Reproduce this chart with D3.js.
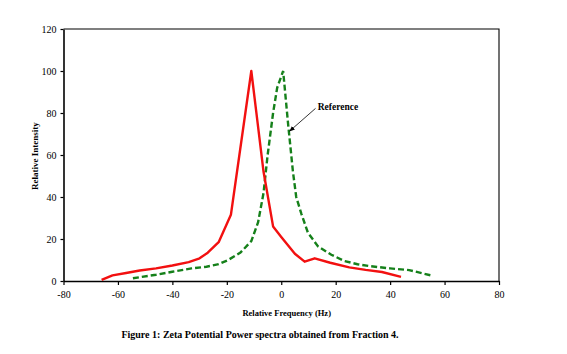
<!DOCTYPE html>
<html>
<head>
<meta charset="utf-8">
<script src="https://cdn.jsdelivr.net/npm/d3@7"></script>
<style>
  body { margin: 0; background: #fff; }
  svg text { font-family: "Liberation Serif", "Times New Roman", serif; fill: #000; }
</style>
</head>
<body>
<svg id="chart" width="567" height="354"></svg>
<script>
// Sample curve (red, solid): [frequency Hz, intensity]
const sampleSeries = [
    [-66, 0.5], [-62, 2.7], [-57, 3.8], [-52, 5], [-46, 6], [-40, 7.4], [-34, 9],
    [-30, 10.8], [-27, 13.5], [-23, 18.5], [-18.5, 31.5], [-11, 100], [-6.5, 52],
    [-3, 26], [0, 21], [5, 13], [8.6, 9.2], [12.3, 10.8], [18, 8.7], [25, 6.5],
    [31, 5.3], [37, 4.3], [44, 2]
];

// Reference curve (green, dashed)
const referenceSeries = [
    [-54.5, 1.3], [-46, 3], [-40, 4.4], [-33, 6], [-27.5, 6.8], [-23, 8], [-19.5, 10],
    [-15, 13.5], [-11, 19], [-8.5, 28], [-6.5, 42], [-5, 60], [-3, 80], [-1.5, 92],
    [0.7, 100], [2.5, 75], [4.3, 52], [5.5, 40], [7.4, 32], [9.8, 23], [13.5, 16.5],
    [18.4, 12.5], [23.3, 9.5], [28, 8], [33, 7], [40, 6], [47, 5.2], [55.5, 2.5]
];

const xTicks = [-80, -60, -40, -20, 0, 20, 40, 60, 80];
const yTicks = [0, 20, 40, 60, 80, 100, 120];

const annotation = { label: "Reference", text: [13.4, 81.4], from: [12.6, 82.2], to: [3.1, 71.4] };

const W = 567, H = 354;
const margin = { top: 29, right: 68, bottom: 73, left: 63.5 };
const iw = W - margin.left - margin.right;
const ih = H - margin.top - margin.bottom;

const svg = d3.select("#chart");
const g = svg.append("g").attr("transform", `translate(${margin.left},${margin.top})`);

const x = d3.scaleLinear().domain([-80, 80]).range([0, iw]);
const y = d3.scaleLinear().domain([0, 120]).range([ih, 0]);

// frame top + right
g.append("path")
    .attr("d", `M0,0H${iw}V${ih}`)
    .attr("fill", "none").attr("stroke", "#000").attr("stroke-width", 1.1);

// plain hyphen for negatives, like the original
const fmt = v => String(v);

const xAxis = g.append("g").attr("transform", `translate(0,${ih})`)
    .call(d3.axisBottom(x).tickValues(xTicks).tickFormat(fmt).tickSize(4).tickSizeOuter(0).tickPadding(6));
const yAxis = g.append("g")
    .call(d3.axisLeft(y).tickValues(yTicks).tickFormat(fmt).tickSize(3).tickSizeOuter(0).tickPadding(4));

[xAxis, yAxis].forEach(a => {
    a.select(".domain").attr("stroke", "#000").attr("stroke-width", 1.6);
    a.selectAll(".tick line").attr("stroke", "#000").attr("stroke-width", 1.2);
    a.selectAll("text").attr("font-size", "10px")
        .attr("font-family", "'Liberation Serif', serif");
});

const line = d3.line().x(d => x(d[0])).y(d => y(d[1]));

g.append("path").datum(referenceSeries)
    .attr("d", line)
    .attr("fill", "none").attr("stroke", "#15801a").attr("stroke-width", 2.4)
    .attr("stroke-dasharray", "6,3");

g.append("path").datum(sampleSeries)
    .attr("d", line)
    .attr("fill", "none").attr("stroke", "#f21010").attr("stroke-width", 2.4)
    .attr("stroke-linejoin", "round");

// annotation arrow
svg.append("defs").append("marker")
    .attr("id", "arrow").attr("viewBox", "0 0 10 10")
    .attr("refX", 9).attr("refY", 5)
    .attr("markerWidth", 7).attr("markerHeight", 7)
    .attr("orient", "auto")
    .append("path").attr("d", "M0,1L10,5L0,9z").attr("fill", "#000");

g.append("line")
    .attr("x1", x(annotation.from[0])).attr("y1", y(annotation.from[1]))
    .attr("x2", x(annotation.to[0])).attr("y2", y(annotation.to[1]))
    .attr("stroke", "#000").attr("stroke-width", 0.8)
    .attr("marker-end", "url(#arrow)");

g.append("text")
    .attr("x", x(annotation.text[0])).attr("y", y(annotation.text[1]))
    .attr("font-size", "9.5px").attr("font-weight", "bold")
    .text(annotation.label);

// axis titles
g.append("text")
    .attr("x", x(2)).attr("y", ih + 35)
    .attr("text-anchor", "middle")
    .attr("font-size", "8.5px").attr("font-weight", "bold")
    .text("Relative Frequency (Hz)");

svg.append("text")
    .attr("transform", `translate(38,156) rotate(-90)`)
    .attr("text-anchor", "middle")
    .attr("font-size", "9px").attr("font-weight", "bold")
    .text("Relative Intensity");

svg.append("text")
    .attr("x", 260).attr("y", 338)
    .attr("text-anchor", "middle")
    .attr("font-size", "10px").attr("font-weight", "bold")
    .text("Figure 1: Zeta Potential Power spectra obtained from Fraction 4.");
</script>
</body>
</html>
